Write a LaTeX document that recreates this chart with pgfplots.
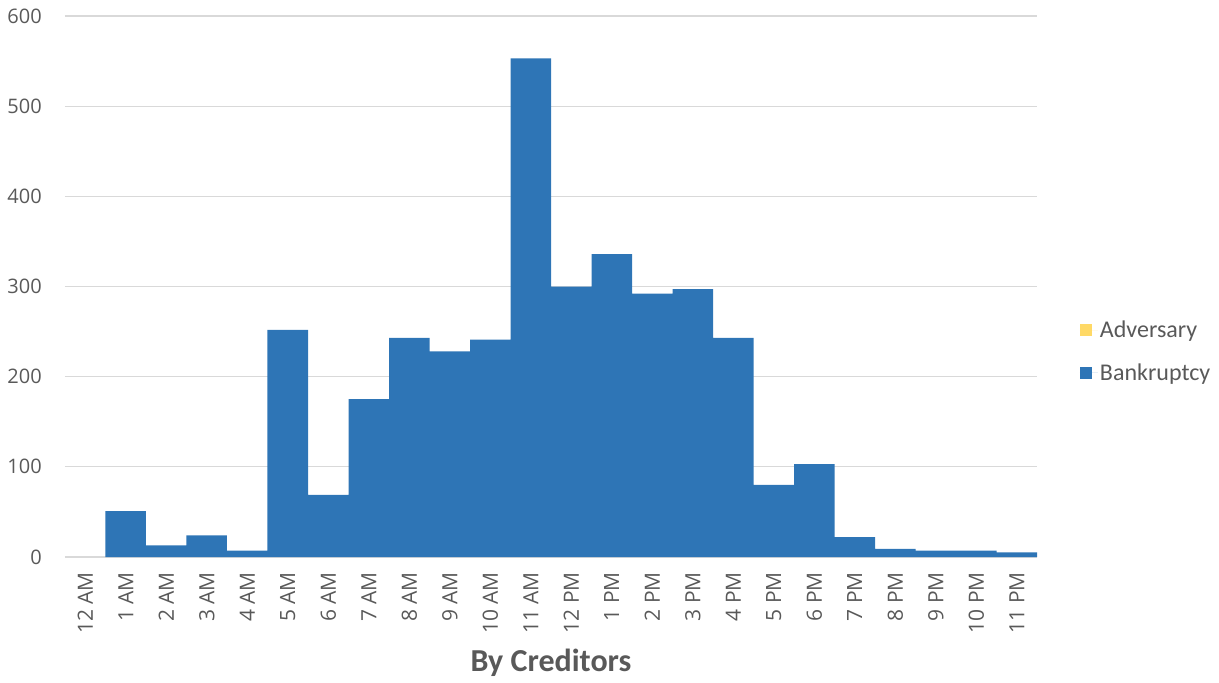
\documentclass[border=0pt]{standalone}
\usepackage{pgfplots}
\pgfplotsset{compat=1.18}
\usepackage{fontspec}
\setmainfont{Carlito}
\newfontfamily\ticksfont{Open Sans}
\definecolor{barblue}{HTML}{2E75B6}
\definecolor{baryellow}{HTML}{FFD966}
\definecolor{gridgray}{HTML}{D9D9D9}
\definecolor{textgray}{HTML}{595959}
\begin{document}
\begin{tikzpicture}
\begin{axis}[
  scale only axis,
  width=972pt, height=541pt,
  ybar stacked,
  bar width=1,
  xmin=-0.5, xmax=23.5,
  ymin=0, ymax=600,
  ytick={0,100,...,600},
  xtick={0,...,23},
  xticklabels={12 AM,1 AM,2 AM,3 AM,4 AM,5 AM,6 AM,7 AM,8 AM,9 AM,10 AM,11 AM,12 PM,1 PM,2 PM,3 PM,4 PM,5 PM,6 PM,7 PM,8 PM,9 PM,10 PM,11 PM},
  major tick length=0pt,
  axis lines=left,
  axis line style={-},
  y axis line style={draw=none},
  x axis line style={draw=gridgray, line width=1.5pt},
  ymajorgrids,
  grid style={draw=gridgray, line width=1.2pt},
  /pgf/number format/assume math mode=true,
  ticklabel style={font=\ticksfont\fontsize{20}{20}\selectfont, text=textgray, inner sep=0pt},
  yticklabel style={anchor=east, xshift=-23pt},
  xticklabel style={rotate=90, anchor=east, xshift=-15pt, font=\ticksfont\fontsize{21}{21}\selectfont},
  xlabel={By Creditors},
  xlabel style={font=\bfseries\fontsize{32}{32}\selectfont, text=textgray, at={(axis description cs:0.5,0)}, anchor=center, yshift=-106pt},
  legend style={at={(1.044,0.38)}, anchor=west, draw=none, fill=none, font=\fontsize{24}{24}\selectfont, text=textgray, row sep=20pt, inner sep=0pt},
  legend cell align=left,
  reverse legend,
  legend image code/.code={\fill[#1, draw=none] (0pt,-6pt) rectangle (12pt,6pt); \path (0pt,0pt) -- (18pt,0pt);},
]
\addplot[fill=barblue, draw=none] coordinates {
(0,0) (1,51) (2,13) (3,24) (4,7) (5,252) (6,69) (7,175) (8,243) (9,228) (10,241) (11,553)
(12,300) (13,336) (14,292) (15,297) (16,243) (17,80) (18,103) (19,22) (20,9) (21,7) (22,7) (23,5)};
\addlegendentry{Bankruptcy}
\addplot[fill=baryellow, draw=none] coordinates {
(0,0) (1,0) (2,0) (3,0) (4,0) (5,0) (6,0) (7,0) (8,0) (9,0) (10,0) (11,0)
(12,0) (13,0) (14,0) (15,0) (16,0) (17,0) (18,0) (19,0) (20,0) (21,0) (22,0) (23,0)};
\addlegendentry{Adversary}
\end{axis}
\path[use as bounding box] (-65pt,-126pt) rectangle (1154pt,557pt);
\end{tikzpicture}
\end{document}
